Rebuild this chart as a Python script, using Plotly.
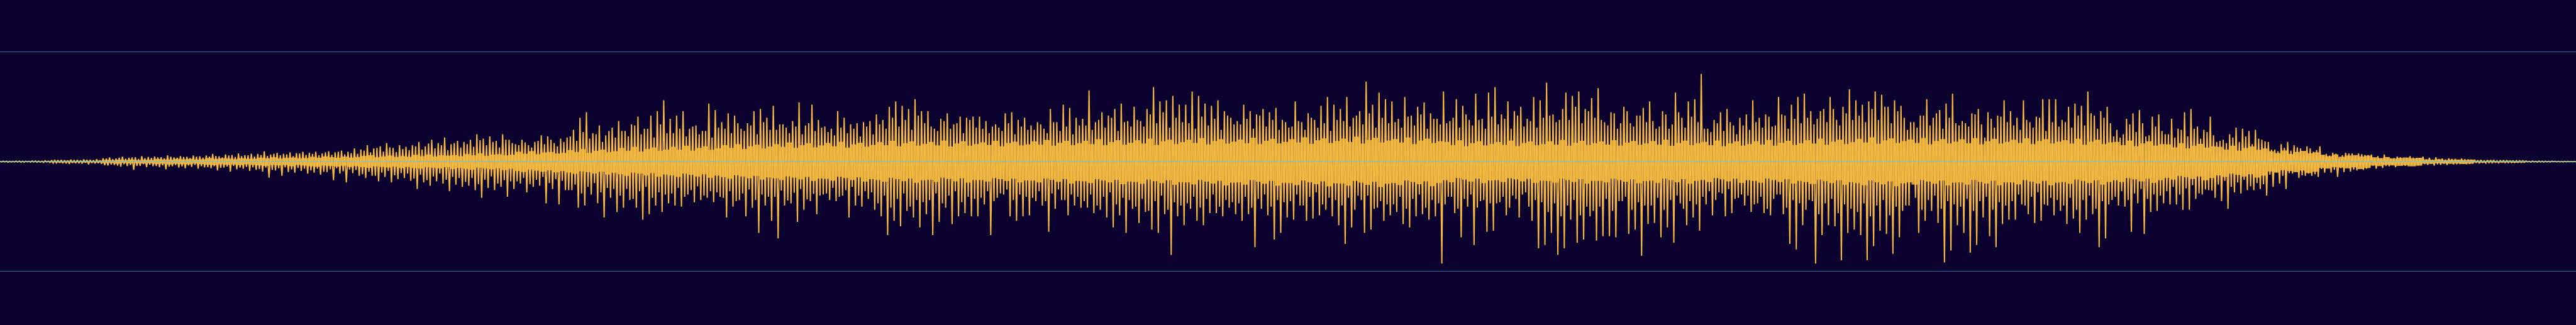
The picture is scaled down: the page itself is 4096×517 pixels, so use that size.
import plotly.graph_objects as go

# Waveform extremes (thousandths of the +/-1 grid unit), 50 consecutive time segments,
# 8 groups per segment.
# outer = tallest spikes, mid = medium spikes, inner = edge of the dense core.
outer_hi = [
    [3, 4, 3, 5, 4, 6, 5, 8], [10, 14, 12, 18, 15, 20, 16, 22], [30, 38, 28, 45, 35, 40, 50, 42],
    [45, 40, 57, 38, 50, 44, 55, 48], [55, 70, 48, 66, 60, 75, 58, 72], [70, 94, 65, 80, 72, 85, 78, 90],
    [80, 90, 75, 95, 85, 100, 90, 120], [110, 150, 120, 140, 170, 125, 150, 135],
    [150, 180, 140, 200, 170, 220, 160, 190], [180, 200, 250, 210, 230, 190, 250, 200],
    [160, 200, 150, 180, 240, 230, 170, 210], [220, 290, 400, 450, 260, 330, 240, 310],
    [370, 280, 340, 410, 300, 420, 460, 560], [390, 420, 460, 300, 330, 280, 530, 470],
    [360, 440, 420, 300, 350, 460, 480, 400], [510, 340, 310, 370, 540, 330, 520, 380],
    [320, 300, 460, 400, 340, 350, 360, 370], [430, 380, 500, 550, 510, 480, 570, 460],
    [460, 300, 390, 440, 340, 410, 400, 410], [410, 370, 320, 310, 440, 450, 380, 400],
    [330, 360, 300, 480, 360, 520, 490, 400], [390, 650, 360, 450, 420, 480, 530, 370],
    [500, 370, 480, 680, 550, 560, 600, 520], [520, 640, 600, 530, 510, 560, 460, 400],
    [370, 520, 460, 430, 480, 450, 490, 380], [310, 550, 360, 440, 380, 510, 590, 520],
    [480, 590, 400, 460, 730, 520, 630, 570], [550, 390, 590, 420, 500, 540, 440, 390],
    [640, 370, 570, 510, 380, 620, 390, 630], [680, 430, 550, 460, 500, 390, 590, 560],
    [720, 430, 380, 630, 600, 640, 480, 580], [670, 360, 450, 300, 500, 350, 420, 490],
    [550, 300, 460, 300, 630, 400, 550, 570], [800, 300, 380, 450, 480, 330, 400, 430],
    [560, 400, 430, 320, 590, 420, 520, 590], [620, 460, 390, 480, 590, 380, 500, 660],
    [560, 520, 550, 640, 610, 500, 560, 510], [290, 360, 420, 570, 400, 470, 530, 620],
    [330, 350, 440, 480, 220, 390, 420, 560], [460, 400, 560, 360, 410, 570, 570, 570],
    [380, 500, 530, 510, 640, 420, 460, 500], [230, 220, 390, 440, 470, 230, 410, 430],
    [250, 390, 300, 450, 480, 320, 290, 410], [180, 200, 250, 310, 300, 280, 290, 200],
    [180, 110, 160, 180, 150, 120, 140, 90], [140, 70, 80, 30, 80, 75, 75, 60],
    [65, 50, 65, 30, 45, 30, 50, 30], [45, 35, 40, 28, 30, 25, 28, 20],
    [18, 15, 14, 12, 10, 10, 8, 8], [6, 5, 5, 4, 4, 3, 3, 2],
]

outer_lo = [
    [3, 4, 4, 5, 5, 6, 7, 8], [12, 15, 20, 14, 18, 25, 17, 20], [35, 30, 45, 40, 75, 38, 50, 42],
    [50, 70, 42, 55, 60, 48, 65, 52], [60, 80, 55, 90, 70, 65, 85, 75], [90, 147, 80, 130, 95, 100, 85, 110],
    [100, 120, 95, 170, 110, 190, 105, 130], [150, 130, 180, 140, 190, 160, 150, 175],
    [250, 190, 220, 180, 200, 270, 210, 230], [220, 260, 330, 240, 260, 230, 320, 250],
    [200, 280, 230, 220, 380, 250, 390, 260], [260, 420, 400, 300, 380, 510, 330, 460],
    [420, 350, 420, 530, 480, 400, 460, 380], [400, 410, 300, 370, 350, 330, 370, 320],
    [510, 410, 350, 500, 420, 650, 400, 540], [700, 400, 380, 550, 440, 360, 480, 300],
    [350, 360, 310, 510, 400, 410, 340, 440], [500, 670, 540, 590, 450, 510, 600, 480],
    [670, 550, 420, 570, 500, 470, 500, 500], [390, 670, 330, 300, 500, 540, 500, 490],
    [360, 400, 640, 430, 350, 490, 400, 420], [420, 470, 440, 510, 600, 490, 650, 430],
    [560, 460, 620, 650, 480, 850, 500, 580], [430, 540, 580, 470, 470, 500, 420, 480],
    [540, 480, 780, 430, 490, 710, 650, 510], [530, 400, 540, 520, 490, 440, 500, 580],
    [750, 600, 310, 650, 620, 420, 540, 490], [460, 570, 600, 500, 480, 530, 500, 930],
    [320, 470, 690, 410, 760, 360, 640, 630], [370, 490, 310, 510, 280, 540, 790, 760],
    [650, 850, 790, 530, 740, 710, 500, 720], [680, 680, 690, 360, 660, 620, 860, 570],
    [560, 690, 600, 740, 380, 580, 510, 630], [390, 490, 280, 500, 470, 330, 400, 460],
    [380, 470, 490, 300, 480, 750, 800, 580], [350, 930, 670, 580, 590, 900, 650, 620],
    [670, 900, 770, 630, 660, 840, 690, 400], [210, 650, 540, 450, 560, 920, 810, 580],
    [650, 830, 760, 510, 680, 780, 570, 530], [530, 390, 480, 560, 540, 400, 490, 450],
    [570, 520, 650, 530, 480, 780, 700, 350], [400, 410, 640, 380, 660, 460, 450, 380],
    [390, 390, 440, 440, 340, 300, 260, 330], [360, 430, 280, 290, 260, 260, 250, 310],
    [230, 200, 250, 110, 150, 130, 130, 140], [100, 100, 140, 95, 90, 80, 75, 50],
    [65, 58, 42, 50, 35, 42, 35, 30], [30, 35, 28, 30, 25, 22, 24, 18],
    [16, 14, 12, 12, 10, 9, 8, 7], [5, 5, 4, 4, 3, 3, 2, 2],
]

mid_hi = [
    [4, 3, 5, 4, 3, 6, 4, 5], [12, 15, 10, 14, 11, 16, 13, 12], [28, 22, 35, 26, 38, 24, 30, 33],
    [38, 30, 44, 35, 42, 32, 45, 36], [45, 52, 38, 56, 42, 50, 58, 47], [60, 52, 72, 58, 66, 50, 75, 62],
    [70, 58, 85, 62, 90, 66, 78, 72], [100, 85, 125, 92, 130, 88, 115, 105],
    [140, 110, 165, 120, 150, 105, 170, 130], [160, 135, 195, 150, 180, 130, 200, 170],
    [150, 175, 130, 190, 160, 200, 140, 180], [230, 190, 270, 210, 250, 180, 280, 220],
    [280, 230, 330, 250, 300, 220, 340, 260], [260, 300, 230, 320, 250, 280, 220, 310],
    [300, 260, 350, 280, 330, 250, 360, 290], [290, 340, 260, 320, 250, 350, 280, 310],
    [270, 240, 310, 260, 300, 230, 320, 250], [340, 300, 400, 320, 380, 290, 420, 350],
    [320, 280, 370, 300, 350, 260, 380, 310], [300, 260, 340, 280, 350, 250, 320, 290],
    [290, 340, 260, 360, 280, 320, 250, 330], [330, 290, 380, 310, 400, 280, 360, 320],
    [380, 320, 430, 350, 450, 310, 400, 360], [350, 300, 410, 330, 390, 290, 420, 340],
    [340, 390, 300, 420, 320, 380, 290, 360], [320, 370, 290, 400, 310, 350, 280, 380],
    [370, 320, 420, 340, 440, 310, 400, 350], [360, 310, 410, 330, 430, 300, 390, 340],
    [350, 400, 310, 430, 330, 380, 300, 410], [340, 390, 300, 420, 320, 370, 310, 400],
    [420, 360, 480, 380, 500, 350, 460, 400], [380, 330, 440, 350, 460, 320, 420, 360],
    [370, 320, 430, 340, 450, 310, 410, 360], [300, 270, 350, 280, 360, 250, 330, 290],
    [360, 310, 410, 330, 430, 300, 390, 350], [400, 340, 460, 360, 480, 330, 440, 380],
    [420, 360, 480, 380, 500, 350, 460, 400], [360, 310, 420, 330, 440, 300, 400, 350],
    [370, 320, 430, 340, 450, 310, 410, 360], [330, 290, 380, 310, 400, 280, 360, 320],
    [360, 310, 420, 330, 440, 300, 400, 350], [290, 250, 340, 270, 350, 240, 320, 280],
    [250, 220, 290, 230, 300, 210, 270, 240], [190, 170, 220, 180, 230, 160, 210, 185],
    [110, 95, 125, 100, 130, 90, 120, 105], [62, 55, 72, 58, 75, 50, 68, 60],
    [34, 30, 38, 32, 40, 28, 36, 33], [20, 17, 23, 19, 24, 16, 22, 18],
    [9, 8, 10, 8, 10, 7, 9, 8], [3, 3, 4, 3, 3, 2, 3, 2],
]

mid_lo = [
    [3, 5, 4, 6, 3, 4, 5, 4], [14, 11, 16, 12, 15, 10, 13, 14], [32, 26, 36, 24, 30, 38, 22, 28],
    [40, 34, 45, 31, 43, 36, 30, 42], [50, 42, 58, 45, 38, 55, 47, 52], [68, 55, 75, 60, 52, 72, 58, 64],
    [80, 65, 92, 70, 60, 88, 72, 76], [115, 92, 130, 100, 85, 125, 105, 110],
    [155, 120, 170, 135, 110, 165, 140, 150], [185, 150, 205, 165, 135, 200, 170, 180],
    [180, 150, 205, 165, 140, 195, 160, 175], [260, 210, 290, 230, 195, 280, 240, 250],
    [310, 250, 340, 270, 230, 330, 280, 300], [290, 240, 320, 260, 225, 310, 270, 280],
    [330, 270, 360, 290, 255, 350, 300, 320], [320, 265, 355, 285, 250, 345, 295, 310],
    [290, 240, 320, 260, 230, 310, 270, 280], [380, 310, 420, 340, 290, 410, 350, 370],
    [350, 290, 380, 310, 270, 370, 320, 340], [330, 270, 360, 290, 255, 350, 300, 320],
    [330, 270, 360, 290, 255, 350, 300, 320], [360, 300, 400, 320, 280, 390, 330, 350],
    [410, 340, 450, 360, 310, 440, 370, 400], [380, 320, 420, 340, 300, 410, 350, 370],
    [380, 320, 420, 340, 300, 410, 350, 370], [360, 300, 400, 320, 280, 390, 330, 350],
    [400, 330, 440, 350, 310, 430, 360, 390], [390, 320, 430, 340, 300, 420, 350, 380],
    [390, 320, 430, 340, 300, 420, 350, 380], [380, 320, 420, 340, 300, 410, 350, 370],
    [460, 380, 500, 400, 350, 490, 410, 450], [410, 340, 450, 360, 320, 440, 370, 400],
    [400, 330, 440, 350, 310, 430, 360, 390], [320, 270, 350, 290, 250, 340, 300, 310],
    [390, 320, 430, 340, 300, 420, 350, 380], [440, 360, 480, 380, 340, 470, 390, 430],
    [460, 380, 500, 400, 350, 490, 410, 450], [400, 330, 440, 350, 310, 430, 360, 390],
    [410, 340, 450, 360, 320, 440, 370, 400], [360, 300, 400, 320, 280, 390, 330, 350],
    [400, 330, 440, 350, 310, 430, 360, 390], [320, 270, 350, 290, 250, 340, 300, 310],
    [270, 230, 300, 245, 215, 290, 255, 265], [210, 175, 230, 190, 165, 225, 195, 205],
    [120, 100, 130, 105, 90, 125, 110, 115], [68, 56, 75, 60, 50, 72, 62, 65],
    [37, 31, 40, 33, 28, 39, 34, 36], [22, 18, 24, 19, 16, 23, 20, 21],
    [9, 8, 10, 8, 7, 10, 9, 8], [3, 3, 4, 3, 2, 3, 3, 2],
]

inner_hi = [
    [2, 3, 2, 3, 3, 4, 3, 4], [8, 6, 9, 5, 7, 8, 6, 9], [16, 12, 18, 14, 19, 13, 17, 15],
    [24, 20, 18, 26, 21, 25, 19, 22], [33, 25, 30, 28, 22, 31, 26, 27],
    [36, 30, 40, 28, 34, 38, 29, 33], [44, 36, 48, 40, 35, 46, 37, 42],
    [52, 58, 40, 47, 55, 43, 50, 44], [62, 50, 66, 47, 58, 55, 60, 50],
    [70, 58, 75, 52, 64, 68, 57, 63], [90, 72, 96, 68, 84, 88, 74, 80],
    [105, 88, 115, 80, 98, 110, 86, 95], [125, 100, 135, 92, 115, 130, 98, 110],
    [135, 110, 145, 100, 125, 140, 108, 122], [150, 125, 160, 115, 140, 155, 120, 138],
    [160, 135, 175, 125, 150, 168, 130, 148], [170, 140, 180, 128, 158, 172, 136, 152],
    [178, 150, 190, 140, 168, 184, 146, 162], [180, 148, 192, 138, 165, 186, 145, 160],
    [176, 152, 190, 140, 170, 182, 148, 158], [185, 155, 198, 145, 172, 190, 150, 168],
    [190, 160, 205, 150, 178, 196, 155, 172], [195, 165, 210, 152, 185, 200, 160, 178],
    [200, 170, 215, 158, 188, 205, 165, 182], [202, 168, 218, 160, 190, 208, 166, 180],
    [205, 175, 222, 162, 195, 212, 170, 188], [210, 180, 228, 165, 198, 218, 175, 192],
    [206, 175, 220, 160, 192, 210, 170, 186], [180, 150, 195, 140, 168, 186, 148, 162],
    [178, 152, 192, 142, 170, 184, 150, 160], [186, 155, 198, 145, 172, 190, 152, 168],
    [184, 156, 196, 146, 174, 188, 154, 166], [188, 155, 200, 144, 170, 192, 150, 168],
    [180, 150, 192, 140, 166, 185, 146, 160], [186, 156, 198, 145, 172, 190, 152, 168],
    [196, 165, 210, 154, 182, 200, 160, 178], [208, 175, 222, 162, 194, 212, 170, 188],
    [202, 170, 216, 158, 188, 206, 166, 182], [204, 168, 215, 158, 186, 208, 165, 180],
    [200, 170, 214, 160, 188, 205, 166, 182], [196, 165, 208, 154, 182, 200, 160, 176],
    [180, 150, 192, 140, 166, 185, 146, 160], [158, 130, 168, 120, 145, 162, 128, 140],
    [135, 110, 145, 100, 124, 138, 108, 120], [95, 78, 102, 70, 88, 98, 76, 85],
    [62, 50, 66, 45, 56, 60, 48, 55], [40, 32, 42, 28, 34, 38, 30, 35],
    [20, 16, 22, 14, 17, 19, 15, 18], [9, 7, 10, 6, 8, 9, 7, 8], [3, 3, 2, 3, 3, 2, 2, 2],
]

inner_lo = [
    [3, 2, 4, 3, 2, 3, 4, 3], [7, 9, 6, 8, 5, 9, 7, 8], [15, 13, 19, 12, 17, 14, 18, 16],
    [22, 19, 26, 20, 24, 25, 18, 23], [28, 33, 24, 30, 27, 32, 25, 29],
    [34, 39, 29, 35, 31, 41, 30, 36], [42, 47, 36, 40, 45, 38, 49, 41],
    [50, 57, 43, 48, 54, 45, 59, 49], [58, 64, 50, 56, 62, 52, 67, 57],
    [66, 74, 56, 62, 71, 60, 77, 65], [85, 95, 72, 82, 92, 78, 98, 86],
    [100, 112, 88, 96, 108, 92, 118, 102], [115, 130, 100, 110, 126, 105, 138, 118],
    [126, 140, 110, 120, 136, 115, 148, 128], [142, 156, 124, 136, 152, 130, 164, 144],
    [152, 168, 134, 146, 162, 140, 176, 154], [158, 174, 138, 150, 168, 144, 182, 160],
    [168, 184, 148, 160, 178, 154, 194, 170], [166, 186, 146, 158, 180, 152, 192, 168],
    [168, 182, 150, 160, 176, 156, 190, 172], [174, 190, 154, 166, 184, 160, 200, 176],
    [180, 196, 160, 172, 190, 166, 206, 182], [186, 202, 164, 178, 196, 170, 212, 188],
    [190, 208, 168, 182, 200, 175, 218, 192], [190, 210, 168, 184, 202, 176, 220, 194],
    [196, 214, 172, 188, 206, 180, 226, 198], [200, 220, 176, 192, 212, 184, 232, 202],
    [195, 214, 172, 186, 206, 180, 224, 196], [170, 188, 150, 164, 182, 156, 196, 172],
    [170, 186, 152, 162, 180, 158, 194, 174], [176, 192, 154, 168, 186, 160, 200, 176],
    [176, 190, 156, 168, 184, 162, 198, 178], [174, 194, 154, 168, 188, 160, 202, 176],
    [168, 186, 150, 162, 180, 156, 194, 170], [176, 192, 154, 168, 186, 160, 200, 176],
    [186, 204, 164, 178, 196, 170, 212, 188], [196, 216, 172, 188, 208, 180, 224, 198],
    [190, 210, 168, 182, 202, 174, 218, 192], [190, 210, 166, 184, 200, 174, 216, 190],
    [190, 208, 168, 182, 200, 176, 216, 192], [186, 202, 164, 176, 196, 170, 210, 186],
    [170, 186, 150, 162, 180, 156, 194, 170], [148, 164, 130, 142, 158, 136, 170, 150],
    [126, 140, 110, 120, 136, 115, 146, 128], [90, 100, 78, 86, 96, 82, 104, 92],
    [58, 64, 50, 55, 62, 52, 68, 59], [36, 41, 31, 35, 39, 33, 43, 37],
    [19, 21, 15, 18, 20, 16, 22, 19], [8, 10, 7, 8, 9, 7, 10, 8], [3, 3, 2, 2, 3, 2, 3, 2],
]

grid_vals = [-1, 1]
zero_level = 0

BG = "#0c0230"
GOLD = "#f2b840"

# waveform samples: tall up, medium down, medium up, tall down per group
ys = []
for oh, ol, mh, ml in zip(outer_hi, outer_lo, mid_hi, mid_lo):
    for a, b, c, d in zip(oh, ol, mh, ml):
        ys.extend([a / 1000, -d / 1000, c / 1000, -b / 1000])
xs = list(range(len(ys)))
last = len(ys) - 1

# dense core: one bar per group of 4 samples
core_x, core_base, core_h = [], [], []
g = 0
for ih, il in zip(inner_hi, inner_lo):
    for a, b in zip(ih, il):
        core_x.append(4 * g + 1.5)
        core_base.append(-b / 1000)
        core_h.append((a + b) / 1000)
        g += 1

fig = go.Figure()
fig.add_trace(go.Bar(x=core_x, y=core_h, base=core_base, width=4, opacity=0.88,
                     marker=dict(color=GOLD, line=dict(width=0)),
                     hoverinfo="skip", showlegend=False))
fig.add_trace(go.Scatter(x=xs, y=ys, mode="lines",
                         line=dict(color=GOLD, width=2.0),
                         hoverinfo="skip", showlegend=False))

# zero line drawn over the waveform, as in the reference
fig.add_shape(type="line", xref="paper", x0=0, x1=1, yref="y", y0=zero_level, y1=zero_level,
              line=dict(color="#58c4e8", width=1.3), opacity=0.8, layer="above")

fig.update_layout(
    width=4096, height=517,
    margin=dict(l=0, r=0, t=0, b=0),
    paper_bgcolor=BG, plot_bgcolor=BG,
    showlegend=False, barmode="overlay",
    xaxis=dict(range=[0, last], visible=False, showgrid=False, zeroline=False),
    yaxis=dict(range=[-1.49, 1.474], tickvals=grid_vals, showticklabels=False,
               showgrid=True, gridcolor="#3a6a9c", gridwidth=1.3,
               zeroline=False, showline=False, ticks=""),
)

fig.write_html("out.html", config={"displayModeBar": False, "staticPlot": True},
               post_script="document.body.style.margin='0';document.body.style.overflow='hidden';")
